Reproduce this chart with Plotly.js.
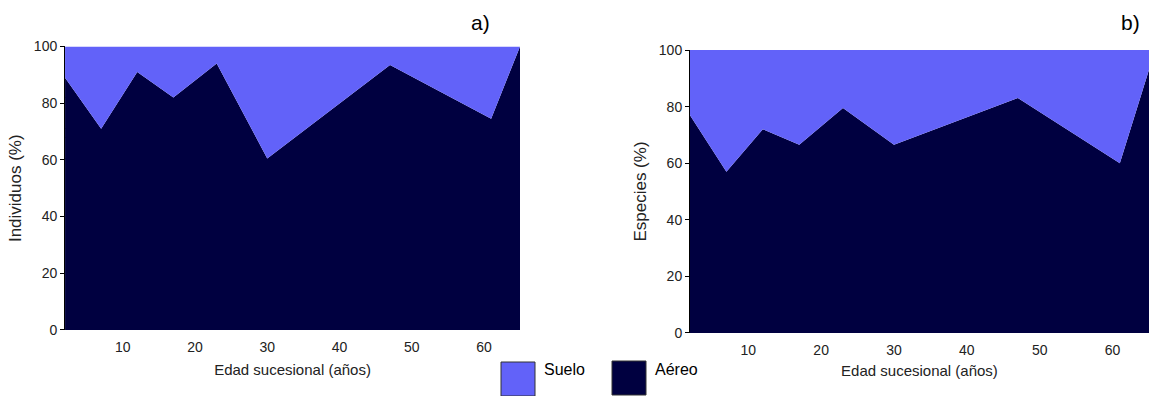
<!DOCTYPE html>
<html>
<head>
<meta charset="utf-8">
<script src="https://cdn.plot.ly/plotly-3.0.1.min.js"></script>
<style>html,body{margin:0;padding:0;background:#fff;}#chart{width:1149px;height:396px;}</style>
</head>
<body>
<div id="chart"></div>
<script>
// Edad sucesional (años)
const edad = [2, 7, 12, 17, 23, 30, 47, 61, 65];
// a) Individuos (%)
const aereoIndividuos = [89, 71, 91, 82, 94, 60.5, 93.5, 74.5, 100];
const sueloIndividuos = [11, 29, 9, 18, 6, 39.5, 6.5, 25.5, 0];
// b) Especies (%)
const aereoEspecies = [77, 57, 72, 66.5, 79.5, 66.5, 83, 60, 93];
const sueloEspecies = [23, 43, 28, 33.5, 20.5, 33.5, 17, 40, 7];

const xTicks = [10, 20, 30, 40, 50, 60];
const yTicks = [0, 20, 40, 60, 80, 100];
const seriesNames = ['Suelo', 'Aéreo'];
const colSuelo = '#6262f9';
const colAereo = '#000040';

const fam = 'Liberation Sans, Arial, sans-serif';
const tickFont = {family: fam, size: 14, color: '#222'};
const xTitleFont = {family: fam, size: 15, color: '#222'};
const yTitleFont = {family: fam, size: 17, color: '#222'};

function area(x, y, name, color, xa, ya, group) {
  return {x: x, y: y, name: name, type: 'scatter', mode: 'lines',
    stackgroup: group, line: {width: 0, color: color}, fillcolor: color,
    xaxis: xa, yaxis: ya, showlegend: false, hoverinfo: 'skip'};
}

const data = [
  area(edad, aereoIndividuos, seriesNames[1], colAereo, 'x', 'y', 'a'),
  area(edad, sueloIndividuos, seriesNames[0], colSuelo, 'x', 'y', 'a'),
  area(edad, aereoEspecies, seriesNames[1], colAereo, 'x2', 'y2', 'b'),
  area(edad, sueloEspecies, seriesNames[0], colSuelo, 'x2', 'y2', 'b')
];

const xBase = {range: [2, 65], tickvals: xTicks, ticks: 'outside', tickcolor: 'rgba(0,0,0,0)',
  showgrid: false, zeroline: false, showline: false, tickfont: tickFont};
const yBase = {range: [0, 100], tickvals: yTicks, ticks: 'outside', ticklen: 4, tickcolor: '#000',
  showgrid: false, zeroline: false, showline: true, linecolor: '#000', linewidth: 1, tickfont: tickFont};

const layout = {
  width: 1149, height: 396,
  margin: {l: 0, r: 0, t: 0, b: 0},
  paper_bgcolor: '#fff', plot_bgcolor: '#fff',
  font: tickFont,
  xaxis: Object.assign({}, xBase, {domain: [0.0566, 0.4526], anchor: 'y', ticklen: 4,
    title: {text: 'Edad sucesional (años)', font: xTitleFont, standoff: 10}}),
  yaxis: Object.assign({}, yBase, {domain: [0.1667, 0.8826], anchor: 'x',
    title: {text: 'Individuos (%)', font: yTitleFont, standoff: 7}}),
  xaxis2: Object.assign({}, xBase, {domain: [0.6005, 1.0], anchor: 'y2', ticklen: 4,
    title: {text: 'Edad sucesional (años)', font: xTitleFont, standoff: 8}}),
  yaxis2: Object.assign({}, yBase, {domain: [0.1591, 0.8737], anchor: 'x2',
    title: {text: 'Especies (%)', font: yTitleFont, standoff: 7}}),
  shapes: [
    {type: 'rect', xref: 'paper', yref: 'paper', x0: 501/1149, x1: 535/1149, y0: 0, y1: 1-362/396,
      fillcolor: colSuelo, line: {color: '#333', width: 1}},
    {type: 'rect', xref: 'paper', yref: 'paper', x0: 612/1149, x1: 646/1149, y0: 1/396, y1: 1-361/396,
      fillcolor: colAereo, line: {color: '#333', width: 1}}
  ],
  annotations: [
    {text: 'a)', xref: 'paper', yref: 'paper', x: 480/1149, y: 1-22/396, xanchor: 'center', yanchor: 'middle',
      showarrow: false, font: {family: 'Liberation Sans Narrow, Liberation Sans, Arial', size: 21, color: '#000'}},
    {text: 'b)', xref: 'paper', yref: 'paper', x: 1130/1149, y: 1-22/396, xanchor: 'center', yanchor: 'middle',
      showarrow: false, font: {family: 'Liberation Sans Narrow, Liberation Sans, Arial', size: 21, color: '#000'}},
    {text: seriesNames[0], xref: 'paper', yref: 'paper', x: 542/1149, y: 1-369/396, xanchor: 'left', yanchor: 'middle',
      showarrow: false, font: {family: 'Liberation Sans, Arial', size: 16, color: '#000'}},
    {text: seriesNames[1], xref: 'paper', yref: 'paper', x: 653/1149, y: 1-369/396, xanchor: 'left', yanchor: 'middle',
      showarrow: false, font: {family: 'Liberation Sans, Arial', size: 16, color: '#000'}}
  ]
};

Plotly.newPlot('chart', data, layout, {displayModeBar: false, staticPlot: true});
</script>
</body>
</html>
